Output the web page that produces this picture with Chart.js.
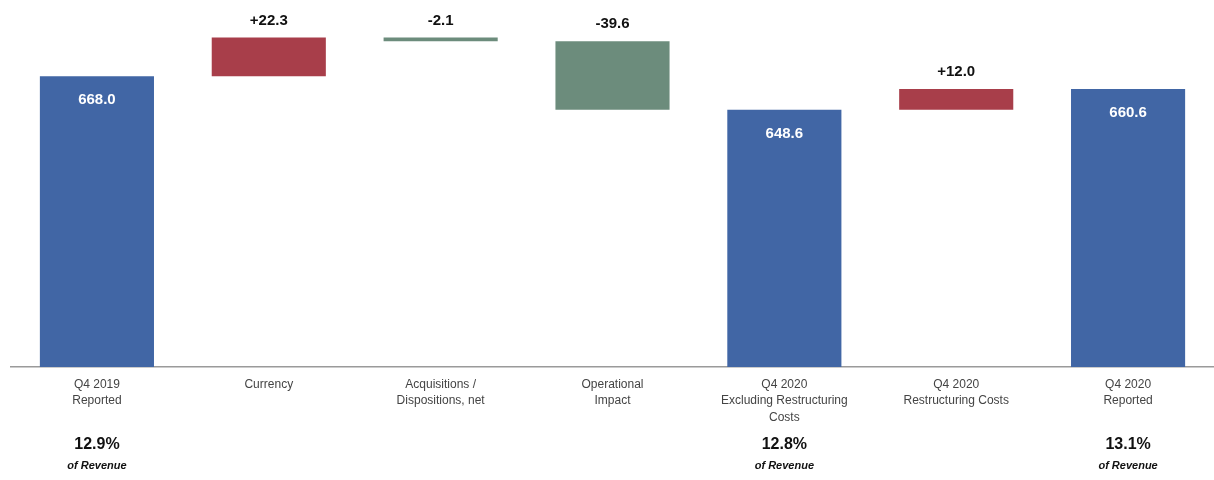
<!DOCTYPE html>
<html>
<head>
<meta charset="utf-8">
<script src="https://cdn.jsdelivr.net/npm/chart.js@4.4.1/dist/chart.umd.min.js"></script>
<style>
  html, body { margin: 0; padding: 0; background: #fff; }
  #wrap { width: 1214px; height: 480px; position: relative; }
</style>
</head>
<body>
<div id="wrap"><canvas id="bridge"></canvas></div>
<script>
// categories (multi-line tick labels)
const categories = [
  ['Q4 2019', 'Reported'],
  ['Currency'],
  ['Acquisitions /', 'Dispositions, net'],
  ['Operational', 'Impact'],
  ['Q4 2020', 'Excluding Restructuring', 'Costs'],
  ['Q4 2020', 'Restructuring Costs'],
  ['Q4 2020', 'Reported']
];
// total bars carry the level, step bars carry the change
const values  = [668.0, 22.3, -2.1, -39.6, 648.6, 12.0, 660.6];
const isTotal = [true, false, false, false, true, false, true];
const margins = ['12.9%', null, null, null, '12.8%', null, '13.1%'];
const yMin = 500, yMax = 712;

const BLUE = '#4166a5', RED = '#a83e4a', GREEN = '#6c8c7c';

// floating ranges for the waterfall
let running = 0;
const ranges = values.map((v, i) => {
  if (isTotal[i]) { running = v; return [0, v]; }
  const start = running;
  running = +(running + v).toFixed(1);
  return [start, running];
});
const colors = values.map((v, i) => isTotal[i] ? BLUE : (v >= 0 ? RED : GREEN));

const fmtVal = (v, total) => (total ? '' : (v > 0 ? '+' : '')) + v.toFixed(1);

const barLabels = {
  id: 'barLabels',
  afterDatasetsDraw(chart) {
    const ctx = chart.ctx;
    const meta = chart.getDatasetMeta(0);
    ctx.save();
    ctx.textAlign = 'center';
    ctx.textBaseline = 'middle';
    meta.data.forEach((bar, i) => {
      const top = Math.min(bar.y, bar.base);
      if (isTotal[i]) {
        ctx.font = 'bold 15px "Liberation Sans", Arial, sans-serif';
        ctx.fillStyle = '#ffffff';
        ctx.fillText(fmtVal(values[i], true), bar.x, top + 24);
      } else {
        ctx.font = 'bold 15px "Liberation Sans", Arial, sans-serif';
        ctx.fillStyle = '#111';
        ctx.fillText(fmtVal(values[i], false), bar.x, top - 17);
      }
    });
    ctx.restore();
  },
  afterDraw(chart) {
    const ctx = chart.ctx;
    const x = chart.scales.x;
    ctx.save();
    ctx.textAlign = 'center';
    ctx.textBaseline = 'middle';
    ctx.fillStyle = '#111';
    margins.forEach((m, i) => {
      if (!m) return;
      const px = x.getPixelForValue(i);
      ctx.font = 'bold 16px "Liberation Sans", Arial, sans-serif';
      ctx.fillText(m, px, 445);
      ctx.font = 'italic bold 11px "Liberation Sans", Arial, sans-serif';
      ctx.fillText('of Revenue', px, 466);
    });
    ctx.restore();
  }
};

new Chart(document.getElementById('bridge'), {
  type: 'bar',
  data: {
    labels: categories,
    datasets: [{
      data: ranges,
      backgroundColor: colors,
      borderWidth: 0,
      borderSkipped: false,
      barPercentage: 0.664,
      categoryPercentage: 1
    }]
  },
  options: {
    responsive: true,
    maintainAspectRatio: false,
    animation: false,
    layout: { padding: { left: 11, right: 0, top: 0, bottom: 0 } },
    plugins: { legend: { display: false }, tooltip: { enabled: false } },
    scales: {
      y: { display: false, min: yMin, max: yMax },
      x: {
        grid: { display: false, drawTicks: false },
        border: { display: true, color: '#9a9a9a', width: 1.5 },
        ticks: {
          color: '#444',
          font: { family: '"Liberation Sans", Arial, sans-serif', size: 12, lineHeight: 1.34 },
          padding: 10,
          maxRotation: 0,
          autoSkip: false
        },
        afterFit(scale) { scale.height = 113; }
      }
    }
  },
  plugins: [barLabels]
});
</script>
</body>
</html>
